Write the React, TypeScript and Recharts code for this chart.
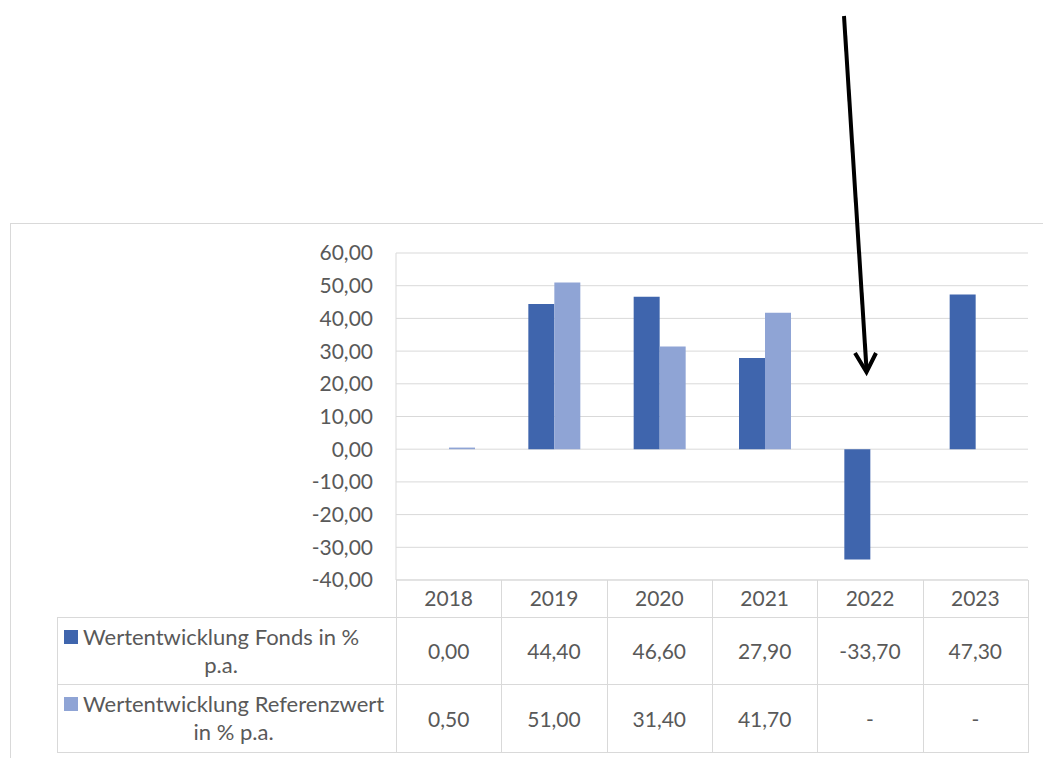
import { BarChart, Bar, XAxis, YAxis, CartesianGrid } from "recharts";

const YEARS = ["2018", "2019", "2020", "2021", "2022", "2023"];
const FONDS: (number | null)[] = [0, 44.4, 46.6, 27.9, -33.7, 47.3];
const REFERENZ: (number | null)[] = [0.5, 51.0, 31.4, 41.7, null, null];
const Y_TICKS = [-40, -30, -20, -10, 0, 10, 20, 30, 40, 50, 60];

const SERIES = [
  { key: "fonds", line1: "Wertentwicklung Fonds in %", line2: "p.a.", color: "#3F65AD", values: FONDS },
  { key: "referenz", line1: "Wertentwicklung Referenzwert", line2: "in % p.a.", color: "#8FA4D5", values: REFERENZ },
];

const data = YEARS.map((year, i) => ({ year, fonds: FONDS[i], referenz: REFERENZ[i] }));

const W = 1043;
const H = 758;
const PLOT_LEFT = 396;
const PLOT_RIGHT = 1028;
const PLOT_TOP = 253;
const PLOT_BOTTOM = 580;
const ROWS = [580, 617, 684, 752];
const LEGEND_LEFT = 57;
const COL_W = (PLOT_RIGHT - PLOT_LEFT) / YEARS.length;

const GRID = "#d9d9d9";
const TEXT = "#595959";
const FONT = "Lato, 'Noto Sans', sans-serif";
const NUM_SIZE = 21;
const LEGEND_SIZE = 22;

const fmt = (v: number | null) => (v == null ? "-" : v.toFixed(2).replace(".", ","));

export default function App() {
  const lines: JSX.Element[] = [];
  // horizontal table rules
  ROWS.slice(1).forEach((y, i) =>
    lines.push(
      <div key={`h${i}`} style={{ position: "absolute", left: LEGEND_LEFT, top: y, width: PLOT_RIGHT - LEGEND_LEFT + 1, height: 1, background: GRID }} />
    )
  );
  // vertical table rules
  for (let i = 0; i <= YEARS.length; i++) {
    lines.push(
      <div key={`v${i}`} style={{ position: "absolute", left: PLOT_LEFT + i * COL_W, top: ROWS[0], width: 1, height: ROWS[3] - ROWS[0], background: GRID }} />
    );
  }
  lines.push(
    <div key="vleg" style={{ position: "absolute", left: LEGEND_LEFT, top: ROWS[1], width: 1, height: ROWS[3] - ROWS[1], background: GRID }} />
  );

  return (
    <div style={{ position: "absolute", left: 0, top: 0, width: W, height: H, background: "#fff", fontFamily: FONT, color: TEXT, overflow: "hidden" }}>
      {/* outer chart frame */}
      <div style={{ position: "absolute", left: 10, top: 223, width: W, height: H, borderTop: `1px solid ${GRID}`, borderLeft: `1px solid ${GRID}` }} />

      <BarChart
        width={W}
        height={H}
        data={data}
        margin={{ top: PLOT_TOP, right: W - PLOT_RIGHT, bottom: H - PLOT_BOTTOM - 30, left: PLOT_LEFT - 100 }}
        barCategoryGap={27}
        barGap={0}
        style={{ position: "absolute", left: 0, top: 0 }}
      >
        <CartesianGrid vertical={false} stroke={GRID} strokeWidth={1} />
        <XAxis
          dataKey="year"
          height={30}
          axisLine={{ stroke: GRID }}
          tickLine={false}
          tickSize={0}
          tickMargin={11}
          tick={{ fill: TEXT, fontSize: NUM_SIZE, fontFamily: FONT }}
        />
        <YAxis
          width={100}
          domain={[-40, 60]}
          ticks={Y_TICKS}
          interval={0}
          axisLine={{ stroke: GRID }}
          tickLine={false}
          tickSize={0}
          tickMargin={23}
          tickFormatter={(v: number) => fmt(v)}
          tick={{ fill: TEXT, fontSize: NUM_SIZE, fontFamily: FONT }}
        />
        <YAxis
          yAxisId="right"
          orientation="right"
          width={0}
          domain={[-40, 60]}
          tick={false}
          tickLine={false}
          axisLine={{ stroke: GRID }}
        />
        {SERIES.map((s) => (
          <Bar key={s.key} dataKey={s.key} fill={s.color} isAnimationActive={false} />
        ))}
      </BarChart>

      {lines}

      {/* data table rows */}
      {SERIES.map((s, r) => {
        const top = ROWS[r + 1];
        const h = ROWS[r + 2] - top;
        return (
          <div key={s.key}>
            <div
              style={{
                position: "absolute",
                left: LEGEND_LEFT + 7,
                top,
                height: h,
                display: "flex",
                alignItems: "center",
                fontSize: LEGEND_SIZE,
                lineHeight: "28px",
              }}
            >
              <div style={{ display: "flex", alignItems: "flex-start" }}>
                <span style={{ width: 14, height: 14, background: s.color, marginTop: 7, marginRight: 5, flex: "none" }} />
                <div style={{ textAlign: "center", whiteSpace: "nowrap" }}>
                  {s.line1}
                  <br />
                  {s.line2}
                </div>
              </div>
            </div>
            {s.values.map((v, i) => (
              <div
                key={i}
                style={{
                  position: "absolute",
                  left: PLOT_LEFT + i * COL_W,
                  top,
                  width: COL_W,
                  height: h,
                  display: "flex",
                  alignItems: "center",
                  justifyContent: "center",
                  fontSize: NUM_SIZE,
                }}
              >
                {fmt(v)}
              </div>
            ))}
          </div>
        );
      })}

      {/* annotation arrow */}
      <svg width={W} height={H} style={{ position: "absolute", left: 0, top: 0, pointerEvents: "none" }}>
        <line x1={844} y1={16} x2={866.5} y2={369} stroke="#000" strokeWidth={4} />
        <polyline points="855,353 866.5,372 876,353" fill="none" stroke="#000" strokeWidth={4} strokeLinejoin="miter" />
      </svg>
    </div>
  );
}
